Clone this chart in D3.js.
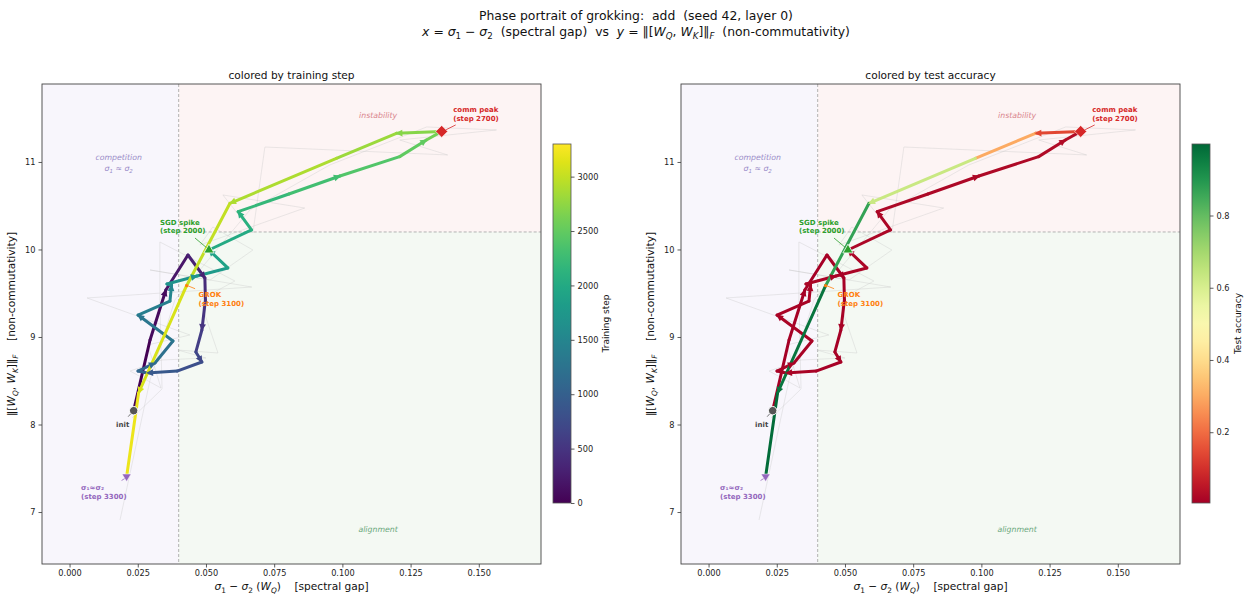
<!DOCTYPE html>
<html>
<head>
<meta charset="utf-8">
<script src="https://cdn.jsdelivr.net/npm/d3@7"></script>
<style>
  body { margin: 0; background: #fff; }
  text { font-family: "DejaVu Sans", sans-serif; }
</style>
</head>
<body>
<svg id="chart" width="1247" height="595"></svg>
<script>
// checkpoints (every 100 steps)
const steps = [0, 100, 200, 300, 400, 500, 600, 700, 800, 900, 1000, 1100, 1200, 1300, 1400, 1500, 1600,
  1700, 1800, 1900, 2000, 2100, 2200, 2300, 2400, 2500, 2600, 2700, 2800, 2900, 3000, 3100, 3200, 3300]

// smoothed trajectory: spectral gap sigma1 - sigma2 of W_Q, and ||[W_Q, W_K]||_F
const gap = [0.0235, 0.0295, 0.0353, 0.0434, 0.0496, 0.0498, 0.0485, 0.0463, 0.0485, 0.0394, 0.0284, 0.0251,
  0.0313, 0.0379, 0.0251, 0.0368, 0.0374, 0.0357, 0.0467, 0.0580, 0.0511, 0.0667, 0.0618, 0.0804, 0.0991,
  0.1210, 0.1308, 0.1364, 0.1198, 0.0978, 0.0588, 0.0429, 0.0253, 0.0209]
const comm = [8.158, 8.966, 9.537, 9.937, 9.674, 9.423, 9.080, 8.829, 8.714, 8.611, 8.589, 8.611,
  8.703, 8.954, 9.251, 9.411, 9.594, 9.606, 9.697, 9.789, 9.994, 10.223, 10.432, 10.634, 10.840,
  11.061, 11.251, 11.349, 11.328, 11.042, 10.528, 9.586, 8.360, 7.400]

// raw (unsmoothed) trajectory, drawn faintly behind
const rawGap = [0.0229, 0.0339, 0.0331, 0.0331, 0.0606, 0.0478, 0.0544, 0.0397, 0.0500, 0.0339, 0.0222, 0.0335,
  0.0287, 0.0441, 0.0064, 0.0668, 0.0295, 0.0515, 0.0672, 0.0525, 0.0478, 0.0862, 0.0562, 0.0672, 0.0716,
  0.1386, 0.1210, 0.1565, 0.1309, 0.0954, 0.0661, 0.0386, 0.0295, 0.0185]
const rawComm = [8.074, 8.406, 9.423, 10.086, 9.640, 9.423, 8.817, 8.851, 8.760, 8.737, 8.611, 8.417,
  8.909, 9.023, 9.446, 9.571, 9.766, 9.651, 9.994, 10.257, 10.051, 10.474, 10.623, 10.189, 11.171,
  11.080, 11.251, 11.366, 11.400, 10.966, 10.451, 9.423, 8.509, 6.909]

// test accuracy at each checkpoint
const testAcc = [0.004, 0.006, 0.005, 0.008, 0.007, 0.009, 0.006, 0.010, 0.008, 0.011, 0.009, 0.012,
  0.010, 0.013, 0.011, 0.012, 0.014, 0.013, 0.015, 0.016, 0.018, 0.017, 0.020, 0.019, 0.022,
  0.025, 0.030, 0.140, 0.300, 0.630, 0.870, 0.970, 0.990, 0.998]

// events
const events = [
  {idx: 0, label: ["init"], kind: "init"},
  {idx: 20, label: ["SGD spike", "(step 2000)"], kind: "sgd"},
  {idx: 27, label: ["comm peak", "(step 2700)"], kind: "peak"},
  {idx: 31, label: ["GROK", "(step 3100)"], kind: "grok"},
  {idx: 33, label: ["σ₁≈σ₂", "(step 3300)"], kind: "end"}
]

const xTicks = [0, 0.025, 0.05, 0.075, 0.1, 0.125, 0.15]
const yTicks = [7, 8, 9, 10, 11]
const stepTicks = [0, 500, 1000, 1500, 2000, 2500, 3000]
const accTicks = [0.2, 0.4, 0.6, 0.8]
const gapThresh = 0.04, commThresh = 10.2

const svg = d3.select("#chart")
svg.append("rect").attr("width", 1247).attr("height", 595).attr("fill", "#fff")

// write text with italic / subscript parts, mathtext style
function mathText(sel, parts, size) {
  let cur = 0
  parts.forEach(([s, k]) => {
    const t = sel.append("tspan").text(s)
    const sub = k.includes("s")
    const target = sub ? size * 0.28 : 0
    if (target !== cur) t.attr("dy", target - cur)
    cur = target
    if (k.includes("i")) t.attr("font-style", "italic")
    if (sub) t.attr("font-size", size * 0.7)
  })
}

// suptitle
svg.append("text").attr("x", 636).attr("y", 20).attr("text-anchor", "middle")
  .attr("font-size", 12.4).attr("fill", "#111").style("white-space", "pre")
  .text("Phase portrait of grokking:  add  (seed 42, layer 0)")
mathText(svg.append("text").attr("x", 636).attr("y", 36).attr("text-anchor", "middle")
  .attr("font-size", 12.4).attr("fill", "#111").style("white-space", "pre"), [
  ["x", "i"], [" = ", ""], ["σ", "i"], ["1", "s"], [" − ", ""], ["σ", "i"], ["2", "s"],
  ["  (spectral gap)  vs  ", ""], ["y", "i"], [" = ‖[", ""], ["W", "i"], ["Q", "si"], [", ", ""],
  ["W", "i"], ["K", "si"], ["]‖", ""], ["F", "si"], ["  (non-commutativity)", ""]], 12.4)

const pts = steps.map((s, i) => ({step: s, x: gap[i], y: comm[i], rx: rawGap[i], ry: rawComm[i], acc: testAcc[i]}))

const stepColor = d3.scaleSequential(d3.interpolateViridis).domain([0, 3300])
const accColor = d3.scaleSequential(d3.interpolateRdYlGn).domain(d3.extent(testAcc))

const panels = [
  {left: 42, title: "colored by training step", cbLeft: 553, cbLabel: "Training step", cbLabelOff: 56,
   color: d => stepColor(d.step), scale: stepColor, ticks: stepTicks, fmt: d3.format("d"), id: "a"},
  {left: 681, title: "colored by test accuracy", cbLeft: 1192, cbLabel: "Test accuracy", cbLabelOff: 49,
   color: d => accColor(d.acc), scale: accColor, ticks: accTicks, fmt: d3.format(".1f"), id: "b"}
]

const plotTop = 84, plotBottom = 564, pw = 499

panels.forEach(p => {
  const x = d3.scaleLinear().domain([-0.0101, 0.1728]).range([p.left, p.left + pw])
  const y = d3.scaleLinear().domain([6.406, 11.891]).range([plotBottom, plotTop])
  const g = svg.append("g")

  g.append("clipPath").attr("id", "clip" + p.id).append("rect")
    .attr("x", p.left).attr("y", plotTop).attr("width", pw).attr("height", plotBottom - plotTop)
  const inner = g.append("g").attr("clip-path", `url(#clip${p.id})`)

  // phase regions
  inner.append("rect").attr("x", p.left).attr("y", plotTop).attr("width", x(gapThresh) - p.left)
    .attr("height", plotBottom - plotTop).attr("fill", "#f8f6fc")
  inner.append("rect").attr("x", x(gapThresh)).attr("y", plotTop).attr("width", p.left + pw - x(gapThresh))
    .attr("height", y(commThresh) - plotTop).attr("fill", "#fdf4f4")
  inner.append("rect").attr("x", x(gapThresh)).attr("y", y(commThresh)).attr("width", p.left + pw - x(gapThresh))
    .attr("height", plotBottom - y(commThresh)).attr("fill", "#f4f9f3")
  inner.append("line").attr("x1", x(gapThresh)).attr("x2", x(gapThresh)).attr("y1", plotTop).attr("y2", plotBottom)
    .attr("stroke", "#a0a0a0").attr("stroke-width", 0.8).attr("stroke-dasharray", "3,2")
  inner.append("line").attr("x1", x(gapThresh)).attr("x2", p.left + pw).attr("y1", y(commThresh)).attr("y2", y(commThresh))
    .attr("stroke", "#a0a0a0").attr("stroke-width", 0.8).attr("stroke-dasharray", "3,2")

  // region labels
  const comp = inner.append("text").attr("text-anchor", "middle").attr("font-size", 7.8)
    .attr("font-style", "italic").attr("fill", "#9a8cc8")
  comp.append("tspan").attr("x", x(0.018)).attr("y", y(11.02)).text("competition")
  mathText(comp.append("tspan").attr("x", x(0.018)).attr("y", y(10.90)), [
    ["σ", "i"], ["1", "s"], [" ≈ ", ""], ["σ", "i"], ["2", "s"]], 7.8)
  inner.append("text").attr("x", x(0.1131)).attr("y", y(11.50)).attr("text-anchor", "middle")
    .attr("font-size", 7.8).attr("font-style", "italic").attr("fill", "#d9848c").text("instability")
  inner.append("text").attr("x", x(0.1131)).attr("y", y(6.77)).attr("text-anchor", "middle")
    .attr("font-size", 7.8).attr("font-style", "italic").attr("fill", "#6aa87c").text("alignment")

  // raw trajectory
  inner.append("path").datum(pts)
    .attr("d", d3.line().x(d => x(d.rx)).y(d => y(d.ry)))
    .attr("fill", "none").attr("stroke", "#c8c8c8").attr("stroke-opacity", 0.45).attr("stroke-width", 0.8)

  // colored smoothed trajectory
  inner.selectAll("line.seg").data(d3.pairs(pts)).join("line").attr("class", "seg")
    .attr("x1", d => x(d[0].x)).attr("y1", d => y(d[0].y))
    .attr("x2", d => x(d[1].x)).attr("y2", d => y(d[1].y))
    .attr("stroke", d => p.color(d[0])).attr("stroke-width", 3).attr("stroke-linecap", "round")

  // direction arrows every other checkpoint
  const arrIdx = d3.range(2, pts.length, 2)
  inner.selectAll("path.arr").data(arrIdx).join("path").attr("class", "arr")
    .attr("d", "M1,0L-6,-3.4L-6,3.4Z")
    .attr("transform", i => {
      const a = Math.atan2(y(pts[i].y) - y(pts[i - 1].y), x(pts[i].x) - x(pts[i - 1].x)) * 180 / Math.PI
      return `translate(${x(pts[i].x)},${y(pts[i].y)}) rotate(${a})`
    })
    .attr("fill", i => p.color(pts[i - 1]))

  // event markers and annotations
  events.forEach(e => {
    const px = x(pts[e.idx].x), py = y(pts[e.idx].y)
    let col, tx, ty
    if (e.kind === "init") {
      g.append("line").attr("x1", px - 5.5).attr("y1", py + 6).attr("x2", px - 1.5).attr("y2", py + 1.5)
        .attr("stroke", "#555").attr("stroke-width", 0.8)
      g.append("circle").attr("cx", px).attr("cy", py).attr("r", 4.2).attr("fill", "#555")
        .attr("stroke", "#fff").attr("stroke-width", 1)
      g.append("text").attr("x", px - 11).attr("y", py + 16.5).attr("text-anchor", "middle").attr("font-size", 7)
        .attr("font-weight", "bold").attr("fill", "#444").text(e.label[0])
      return
    }
    if (e.kind === "sgd") {
      col = "#2ca02c"; tx = px - 49; ty = py - 25.5
      g.append("line").attr("x1", px - 14).attr("y1", py - 12).attr("x2", px - 2).attr("y2", py - 2)
        .attr("stroke", col).attr("stroke-width", 0.8)
      g.append("path").attr("d", d3.symbol(d3.symbolTriangle, 45)())
        .attr("transform", `translate(${px},${py})`).attr("fill", col).attr("stroke", "#fff").attr("stroke-width", 0.8)
    }
    if (e.kind === "peak") {
      col = "#d62728"; tx = px + 11.5; ty = py - 19
      g.append("line").attr("x1", px + 14).attr("y1", py - 6.5).attr("x2", px + 3).attr("y2", py - 1)
        .attr("stroke", col).attr("stroke-width", 0.8)
      g.append("path").attr("d", "M0,-6L6,0L0,6L-6,0Z")
        .attr("transform", `translate(${px},${py})`).attr("fill", col).attr("stroke", "#fff").attr("stroke-width", 0.6)
    }
    if (e.kind === "grok") {
      col = "#ff7f0e"; tx = px + 12; ty = py + 11.5
      g.append("line").attr("x1", px + 8.5).attr("y1", py + 3).attr("x2", px + 1).attr("y2", py)
        .attr("stroke", col).attr("stroke-width", 0.8)
      g.append("circle").attr("cx", px).attr("cy", py).attr("r", 1.6).attr("fill", col)
    }
    if (e.kind === "end") {
      col = "#9467bd"; tx = px - 45.5; ty = py + 13
      g.append("line").attr("x1", px - 5).attr("y1", py + 3.5).attr("x2", px - 1).attr("y2", py + 1)
        .attr("stroke", col).attr("stroke-width", 0.8)
      g.append("path").attr("d", "M-4.5,-3L4.5,-3L0,4.5Z")
        .attr("transform", `translate(${px},${py})`).attr("fill", col).attr("stroke", "#fff").attr("stroke-width", 0.5)
    }
    const t = g.append("text").attr("font-size", 7).attr("font-weight", "bold").attr("fill", col)
    e.label.forEach((l, k) => t.append("tspan").attr("x", tx).attr("y", ty + k * 8.6).text(l))
  })

  // axes
  const xa = g.append("g").attr("transform", `translate(0,${plotBottom})`)
    .call(d3.axisBottom(x).tickValues(xTicks).tickFormat(d3.format(".3f")).tickSize(3.5).tickPadding(3))
  const ya = g.append("g").attr("transform", `translate(${p.left},0)`)
    .call(d3.axisLeft(y).tickValues(yTicks).tickFormat(d3.format("d")).tickSize(3.5).tickPadding(3))
  ;[xa, ya].forEach(a => {
    a.select(".domain").remove()
    a.selectAll(".tick line").attr("stroke", "#333").attr("stroke-width", 0.8)
    a.selectAll(".tick text").attr("font-size", 8.2).attr("fill", "#222")
      .attr("font-family", "DejaVu Sans, sans-serif")
  })

  g.append("rect").attr("x", p.left).attr("y", plotTop).attr("width", pw).attr("height", plotBottom - plotTop)
    .attr("fill", "none").attr("stroke", "#444").attr("stroke-width", 0.9)

  // titles and labels
  g.append("text").attr("x", p.left + pw / 2).attr("y", 79).attr("text-anchor", "middle")
    .attr("font-size", 10.6).attr("fill", "#111").text(p.title)
  mathText(g.append("text").attr("x", p.left + pw / 2).attr("y", 590).attr("text-anchor", "middle")
    .attr("font-size", 10.6).attr("fill", "#111").style("white-space", "pre"), [
    ["σ", "i"], ["1", "s"], [" − ", ""], ["σ", "i"], ["2", "s"], [" (", ""], ["W", "i"], ["Q", "si"],
    [")    [spectral gap]", ""]], 10.6)
  mathText(g.append("text").attr("transform", `translate(${p.left - 27},${(plotTop + plotBottom) / 2}) rotate(-90)`)
    .attr("text-anchor", "middle").attr("font-size", 10.6).attr("fill", "#111").style("white-space", "pre"), [
    ["‖[", ""], ["W", "i"], ["Q", "si"], [", ", ""], ["W", "i"], ["K", "si"], ["]‖", ""], ["F", "si"],
    ["    [non-commutativity]", ""]], 10.6)

  // colorbar
  const cbTop = 144, cbBot = 503, cbW = 18
  const grad = svg.append("defs").append("linearGradient").attr("id", "grad" + p.id)
    .attr("x1", 0).attr("y1", 1).attr("x2", 0).attr("y2", 0)
  const dom = p.scale.domain()
  d3.range(0, 1.0001, 0.05).forEach(f => grad.append("stop").attr("offset", f)
    .attr("stop-color", p.scale(dom[0] + f * (dom[1] - dom[0]))))
  g.append("rect").attr("x", p.cbLeft).attr("y", cbTop).attr("width", cbW).attr("height", cbBot - cbTop)
    .attr("fill", `url(#grad${p.id})`).attr("stroke", "#555").attr("stroke-width", 0.8)
  const cy = d3.scaleLinear().domain(dom).range([cbBot, cbTop])
  const ca = g.append("g").attr("transform", `translate(${p.cbLeft + cbW},0)`)
    .call(d3.axisRight(cy).tickValues(p.ticks).tickFormat(p.fmt).tickSize(3.5).tickPadding(3))
  ca.select(".domain").remove()
  ca.selectAll(".tick line").attr("stroke", "#333").attr("stroke-width", 0.8)
  ca.selectAll(".tick text").attr("font-size", 8.2).attr("fill", "#222").attr("font-family", "DejaVu Sans, sans-serif")
  g.append("text").attr("transform", `translate(${p.cbLeft + p.cbLabelOff},${(cbTop + cbBot) / 2}) rotate(-90)`)
    .attr("text-anchor", "middle").attr("font-size", 9).attr("fill", "#111").text(p.cbLabel)
})
</script>
</body>
</html>
